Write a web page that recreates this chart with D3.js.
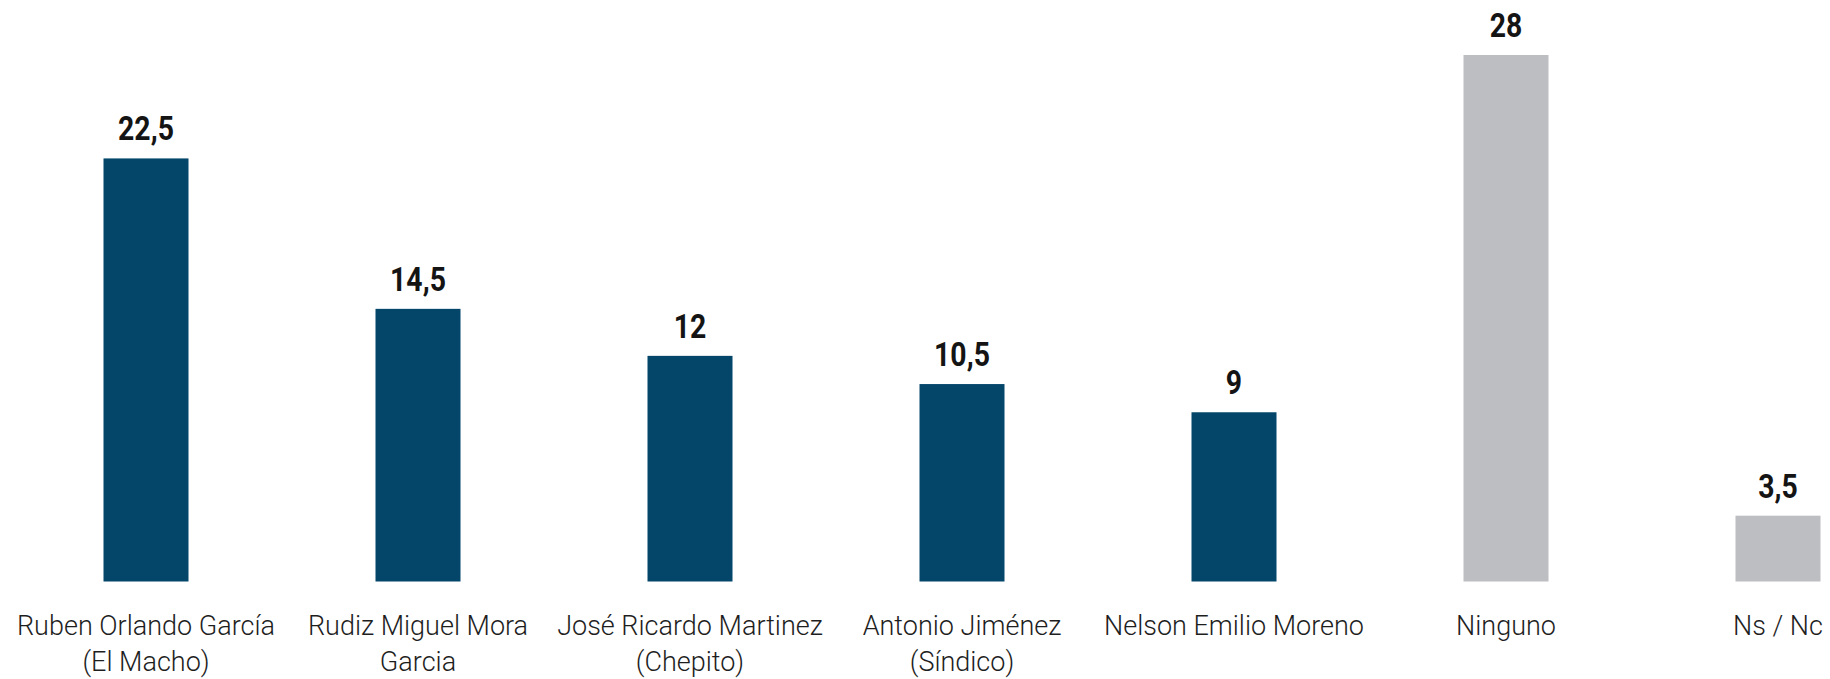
<!DOCTYPE html>
<html>
<head>
<meta charset="utf-8">
<script src="https://cdn.jsdelivr.net/npm/d3@7"></script>
<style>
  html, body { margin: 0; padding: 0; background: #ffffff; }
  svg { display: block; }
</style>
</head>
<body>
<svg id="chart" width="1830" height="679"></svg>
<script>
// ---- data ----
const categories = [
  "Ruben Orlando García (El Macho)",
  "Rudiz Miguel Mora Garcia",
  "José Ricardo Martinez (Chepito)",
  "Antonio Jiménez (Síndico)",
  "Nelson Emilio Moreno",
  "Ninguno",
  "Ns / Nc"
];
const labelLines = [
  ["Ruben Orlando García", "(El Macho)"],
  ["Rudiz Miguel Mora", "Garcia"],
  ["José Ricardo Martinez", "(Chepito)"],
  ["Antonio Jiménez", "(Síndico)"],
  ["Nelson Emilio Moreno"],
  ["Ninguno"],
  ["Ns / Nc"]
];
const values = [22.5, 14.5, 12, 10.5, 9, 28, 3.5];
const valueLabels = ["22,5", "14,5", "12", "10,5", "9", "28", "3,5"];
const groups = ["candidato", "candidato", "candidato", "candidato", "candidato", "otro", "otro"];

// ---- layout ----
const svg = d3.select("#chart");
const baseline = 581.5;

const x = d3.scaleBand()
  .domain(categories)
  .range([10, 1914])
  .paddingInner(0.6875)
  .paddingOuter(0.34375);

const y = d3.scaleLinear()
  .domain([0, 28])
  .range([baseline, 55]);

const color = d3.scaleOrdinal()
  .domain(["candidato", "otro"])
  .range(["#03466a", "#bdbec2"]);

const data = categories.map((c, i) => ({
  cat: c, value: values[i], label: valueLabels[i], lines: labelLines[i], group: groups[i]
}));

// bars
svg.append("g").selectAll("rect")
  .data(data)
  .join("rect")
  .attr("x", d => x(d.cat))
  .attr("y", d => y(d.value))
  .attr("width", x.bandwidth())
  .attr("height", d => y(0) - y(d.value))
  .attr("fill", d => color(d.group));

// value labels (condensed look via horizontal scale)
svg.append("g").selectAll("text")
  .data(data)
  .join("text")
  .attr("transform", d => `translate(${x(d.cat) + x.bandwidth() / 2},${y(d.value) - 18}) scale(0.86,1)`)
  .attr("text-anchor", "middle")
  .style("font-family", "Roboto, 'DejaVu Sans', sans-serif")
  .style("font-weight", "700")
  .style("font-size", "33px")
  .style("fill", "#141414")
  .text(d => d.label);

// category labels
const cat = svg.append("g").selectAll("text")
  .data(data)
  .join("text")
  .attr("x", d => x(d.cat) + x.bandwidth() / 2)
  .attr("y", 635)
  .attr("text-anchor", "middle")
  .style("font-family", "Roboto, 'Open Sans', sans-serif")
  .style("font-weight", "300")
  .style("font-size", "27px")
  .style("fill", "#1e1e1e");

cat.selectAll("tspan")
  .data(d => d.lines)
  .join("tspan")
  .attr("x", function() { return d3.select(this.parentNode).attr("x"); })
  .attr("dy", (d, i) => i === 0 ? 0 : 36)
  .text(d => d);
</script>
</body>
</html>
